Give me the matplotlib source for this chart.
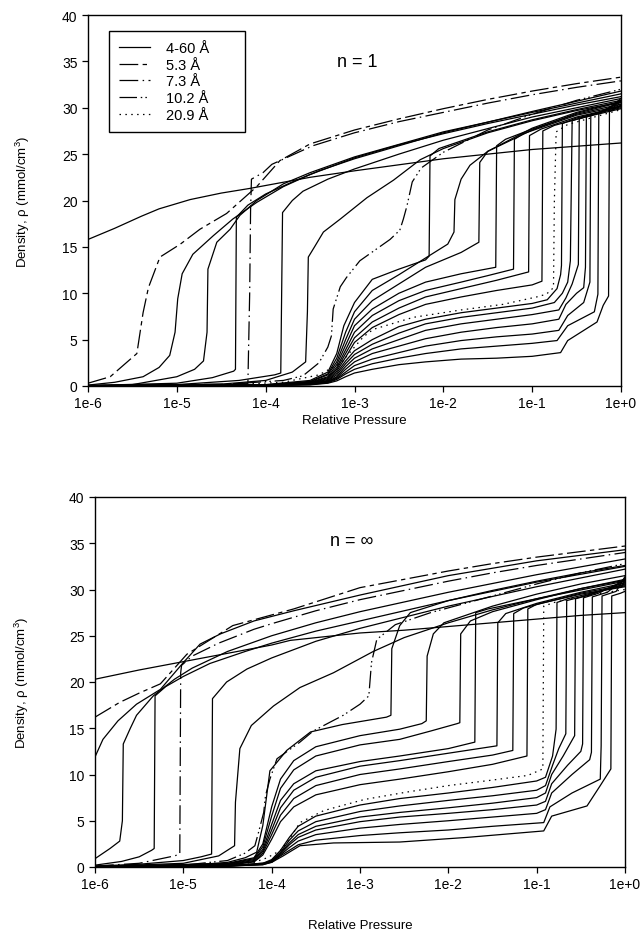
import matplotlib
matplotlib.use("Agg")
import matplotlib.pyplot as plt
from matplotlib.lines import Line2D

plt.rcParams['font.family'] = ['Liberation Sans', 'DejaVu Sans']
plt.rcParams['mathtext.fontset'] = 'custom'
plt.rcParams['mathtext.rm'] = 'Liberation Sans'
plt.rcParams['mathtext.default'] = 'regular'

# (log10 relative pressure, density)

# ---- n = 1 panel ----
top_solid = [
    [(-6, 15.8), (-5.7, 17.0), (-5.4, 18.3), (-5.2, 19.1), (-4.85, 20.1), (-4.5, 20.8), (-4.18, 21.3),
     (-3.5, 22.5), (-3, 23.2), (-2, 24.5), (-1, 25.5), (0, 26.2)],
    [(-6, 0.1), (-5.7, 0.4), (-5.38, 1.0), (-5.2, 2.0), (-5.08, 3.3), (-5.02, 5.8), (-4.99, 9.4), (-4.94, 12.1),
     (-4.82, 14.2), (-4.59, 16.2), (-4.37, 18.0), (-4.1, 19.8), (-3.8, 21.5), (-3.5, 22.8), (-3, 24.6),
     (-2.5, 26.0), (-2, 27.2), (-1.5, 28.3), (-1, 29.3), (-0.5, 30.3), (0, 31.2)],
    [(-6, 0.05), (-5.5, 0.15), (-5.0, 1.0), (-4.8, 1.8), (-4.7, 2.7), (-4.66, 5.8), (-4.65, 12.6), (-4.55, 15.5),
     (-4.4, 16.9), (-4.29, 18.4), (-4.1, 20.0), (-3.8, 21.8), (-3.5, 23.0), (-3, 24.7), (-2, 27.4), (-1, 29.5),
     (0, 31.5)],
    [(-6, 0.05), (-5, 0.3), (-4.6, 0.9), (-4.36, 1.6), (-4.34, 1.8), (-4.33, 18.2), (-4.2, 19.5), (-4.0, 20.7),
     (-3.7, 22.0), (-3.4, 23.2), (-3, 24.5), (-2, 27.3), (-1, 29.6), (0, 31.8)],
    [(-6, 0.03), (-5, 0.15), (-4.3, 0.6), (-3.9, 1.2), (-3.83, 1.4), (-3.81, 18.7), (-3.7, 20.0), (-3.58, 21.0),
     (-3.3, 22.3), (-3, 23.4), (-2.5, 25.0), (-2, 26.5), (-1, 29.0), (0, 31.0)],
    [(-6, 0.03), (-4.5, 0.2), (-4, 0.6), (-3.7, 1.5), (-3.55, 2.6), (-3.53, 8), (-3.52, 13.9), (-3.45, 15.0),
     (-3.35, 16.6), (-3.16, 18.0), (-2.86, 20.3), (-2.56, 22.2), (-2.26, 24.4), (-2, 25.6), (-1.5, 27.3),
     (-1, 28.6), (-0.5, 29.7), (0, 30.6)],
    [(-6, 0.02), (-4, 0.15), (-3.5, 0.6), (-3.3, 1.5), (-3.2, 3.5), (-3.12, 6.5), (-3.0, 9.0), (-2.8, 11.5),
     (-2.5, 12.6), (-2.2, 13.6), (-2.16, 14.0), (-2.15, 24.8), (-2.05, 25.6), (-1.5, 27.4), (-1, 28.7),
     (-0.5, 29.8), (0, 30.8)],
    [(-6, 0.02), (-4, 0.12), (-3.5, 0.5), (-3.3, 1.3), (-3.2, 3.0), (-3.1, 5.8), (-3.0, 8.0), (-2.8, 10.3),
     (-2.5, 12.0), (-2.2, 13.8), (-1.95, 15.3), (-1.88, 16.6), (-1.87, 20.1), (-1.8, 22.3), (-1.7, 23.8),
     (-1.5, 25.3), (-1, 27.8), (-0.5, 29.5), (0, 30.7)],
    [(-6, 0.02), (-4, 0.1), (-3.5, 0.45), (-3.3, 1.2), (-3.2, 2.6), (-3.1, 5.0), (-3.0, 7.2), (-2.8, 9.2),
     (-2.5, 11.0), (-2.2, 12.8), (-1.8, 14.4), (-1.6, 15.5), (-1.59, 24.1), (-1.5, 25.3), (-1, 27.6),
     (-0.5, 29.4), (0, 30.6)],
    [(-6, 0.02), (-4, 0.1), (-3.5, 0.4), (-3.3, 1.0), (-3.2, 2.3), (-3.1, 4.4), (-3.0, 6.5), (-2.8, 8.3),
     (-2.5, 10.0), (-2.2, 11.2), (-1.8, 12.1), (-1.41, 12.8), (-1.40, 25.9), (-1.3, 26.6), (-1, 27.7),
     (-0.5, 29.3), (0, 30.4)],
    [(-6, 0.02), (-4, 0.1), (-3.5, 0.35), (-3.3, 0.9), (-3.2, 2.0), (-3.1, 3.9), (-3.0, 5.8), (-2.8, 7.6),
     (-2.5, 9.2), (-2.2, 10.3), (-1.8, 11.2), (-1.5, 11.9), (-1.21, 12.6), (-1.2, 26.6), (-1.1, 27.2),
     (-0.5, 29.2), (0, 30.2)],
    [(-6, 0.02), (-4, 0.1), (-3.5, 0.3), (-3.3, 0.8), (-3.2, 1.8), (-3.1, 3.5), (-3.0, 5.2), (-2.8, 6.9),
     (-2.5, 8.4), (-2.2, 9.6), (-1.8, 10.5), (-1.4, 11.4), (-1.04, 12.3), (-1.03, 27.0), (-0.9, 27.7),
     (-0.5, 29.0), (0, 30.1)],
    [(-6, 0.02), (-4, 0.1), (-3.5, 0.3), (-3.3, 0.7), (-3.2, 1.6), (-3.1, 3.1), (-3.0, 4.7), (-2.8, 6.3),
     (-2.5, 7.7), (-2.2, 8.8), (-1.8, 9.6), (-1.4, 10.3), (-1.0, 10.9), (-0.89, 11.3), (-0.88, 27.5),
     (-0.75, 28.1), (-0.4, 29.0), (0, 29.9)],
    [(-6, 0.02), (-4, 0.08), (-3.5, 0.25), (-3.3, 0.6), (-3.2, 1.4), (-3.1, 2.7), (-3.0, 3.8), (-2.8, 5.0),
     (-2.5, 6.4), (-2.2, 7.2), (-1.8, 7.9), (-1.4, 8.4), (-1.0, 8.9), (-0.83, 9.3), (-0.72, 10.5), (-0.68, 12.0),
     (-0.67, 13.0), (-0.66, 28.3), (-0.5, 28.9), (0, 30.0)],
    [(-6, 0.02), (-4, 0.08), (-3.5, 0.25), (-3.3, 0.55), (-3.2, 1.2), (-3.1, 2.4), (-3.0, 3.4), (-2.8, 4.5),
     (-2.5, 5.7), (-2.2, 6.7), (-1.8, 7.4), (-1.4, 7.9), (-1.0, 8.4), (-0.75, 9.0), (-0.66, 10.0), (-0.6, 11.2),
     (-0.57, 13.5), (-0.55, 28.6), (-0.4, 29.1), (0, 30.2)],
    [(-6, 0.02), (-4, 0.07), (-3.5, 0.2), (-3.3, 0.5), (-3.2, 1.0), (-3.1, 2.1), (-3.0, 3.0), (-2.8, 4.0),
     (-2.5, 5.0), (-2.2, 6.0), (-1.8, 6.7), (-1.4, 7.2), (-1.0, 7.7), (-0.7, 8.2), (-0.62, 9.5), (-0.55, 11.0),
     (-0.48, 13.1), (-0.47, 28.8), (-0.3, 29.3), (0, 30.4)],
    [(-6, 0.02), (-4, 0.07), (-3.5, 0.2), (-3.3, 0.45), (-3.2, 0.9), (-3.1, 1.8), (-3.0, 2.6), (-2.8, 3.5),
     (-2.5, 4.3), (-2.2, 5.1), (-1.8, 5.8), (-1.4, 6.3), (-1.0, 6.7), (-0.7, 7.2), (-0.62, 8.8), (-0.5, 10.0),
     (-0.42, 10.6), (-0.40, 12.8), (-0.39, 29.0), (-0.25, 29.5), (0, 30.6)],
    [(-6, 0.02), (-4, 0.06), (-3.5, 0.18), (-3.3, 0.4), (-3.2, 0.8), (-3.1, 1.5), (-3.0, 2.2), (-2.8, 2.9),
     (-2.5, 3.6), (-2.2, 4.3), (-1.8, 4.9), (-1.4, 5.3), (-1.0, 5.6), (-0.7, 6.0), (-0.6, 7.6), (-0.42, 9.0),
     (-0.35, 11.2), (-0.34, 29.2), (-0.2, 29.6), (0, 30.8)],
    [(-6, 0.02), (-4, 0.06), (-3.5, 0.15), (-3.3, 0.35), (-3.2, 0.7), (-3.1, 1.3), (-3.0, 1.8), (-2.8, 2.4),
     (-2.5, 3.0), (-2.2, 3.5), (-1.8, 4.0), (-1.4, 4.3), (-1.0, 4.6), (-0.72, 4.9), (-0.6, 6.5), (-0.3, 8.0),
     (-0.26, 9.9), (-0.25, 29.4), (-0.15, 29.8), (0, 31.0)],
    [(-6, 0.02), (-4, 0.05), (-3.5, 0.12), (-3.3, 0.3), (-3.2, 0.55), (-3.1, 1.0), (-3.0, 1.4), (-2.8, 1.8),
     (-2.5, 2.3), (-2.2, 2.6), (-1.8, 2.9), (-1.4, 3.0), (-1.0, 3.2), (-0.68, 3.6), (-0.6, 4.9), (-0.27, 6.9),
     (-0.2, 8.7), (-0.14, 9.7), (-0.13, 29.6), (-0.05, 30.0), (0, 30.3)],
]
top_53 = [(-6, 0.3), (-5.75, 1.0), (-5.45, 3.5), (-5.38, 7.9), (-5.32, 10.6), (-5.19, 13.9), (-4.96, 15.3),
          (-4.74, 16.9), (-4.44, 18.6), (-4.1, 21.5), (-3.84, 24.3), (-3.5, 26.1), (-3, 27.6), (-2.5, 28.8),
          (-2, 29.9), (-1.5, 30.9), (-1, 31.8), (-0.5, 32.6), (0, 33.3)]
top_73 = [(-6, 0.05), (-5, 0.12), (-4.5, 0.2), (-4.2, 0.3), (-4.18, 10), (-4.17, 18.9), (-4.16, 22.3),
          (-4.03, 23.0), (-3.93, 23.9), (-3.47, 25.9), (-3, 27.3), (-2.5, 28.5), (-2, 29.5), (-1.5, 30.5),
          (-1, 31.4), (-0.5, 32.2), (0, 32.9)]
top_102 = [(-6, 0.03), (-4.5, 0.15), (-3.8, 0.6), (-3.58, 1.1), (-3.4, 2.5), (-3.3, 4.2), (-3.26, 5.4),
           (-3.24, 8.3), (-3.16, 10.7), (-3.09, 11.7), (-2.94, 13.5), (-2.6, 15.8), (-2.49, 16.8), (-2.45, 18.0),
           (-2.41, 19.4), (-2.35, 22.0), (-2.25, 23.5), (-2, 25.2), (-1.5, 27.6), (-1, 29.3), (-0.5, 30.8),
           (0, 32.0)]
top_209 = [(-6, 0.02), (-4.5, 0.1), (-3.8, 0.4), (-3.4, 1.2), (-3.15, 2.5), (-3.0, 4.2), (-2.9, 5.3),
           (-2.79, 6.1), (-2.34, 7.4), (-1.8, 8.2), (-1.33, 8.8), (-0.95, 9.6), (-0.84, 9.9), (-0.76, 10.6),
           (-0.75, 20), (-0.73, 27.4), (-0.6, 28.2), (-0.3, 29.0), (0, 29.8)]

# ---- n = infinity panel ----
bot_solid = [
    [(-6, 20.3), (-5.5, 21.3), (-5, 22.2), (-4.5, 23.1), (-4, 24.0), (-3.79, 24.5), (-3, 25.3), (-2.5, 25.6),
     (-2, 26.0), (-1.5, 26.4), (-1, 26.8), (-0.5, 27.2), (0, 27.5)],
    [(-6, 11.9), (-5.91, 13.8), (-5.74, 15.8), (-5.53, 17.6), (-5.26, 19.2), (-5.0, 22.1), (-4.81, 24.1),
     (-4.58, 25.2), (-4.2, 26.6), (-3.75, 27.7), (-3, 29.4), (-2, 31.5), (-1, 33.1), (0, 34.3)],
    [(-6, 0.9), (-5.83, 2.0), (-5.72, 2.8), (-5.69, 5), (-5.68, 13.3), (-5.6, 15.0), (-5.53, 16.4),
     (-5.34, 18.5), (-5.1, 20.3), (-4.9, 21.5), (-4.5, 23.3), (-4, 25.0), (-3.5, 26.4), (-3, 27.6), (-2, 29.7),
     (-1, 31.6), (0, 33.3)],
    [(-6, 0.2), (-5.7, 0.6), (-5.5, 1.1), (-5.36, 1.8), (-5.33, 2.0), (-5.32, 18.5), (-5.2, 19.5), (-5.0, 20.6),
     (-4.7, 22.0), (-4.3, 23.3), (-4, 24.2), (-3.5, 25.5), (-3, 26.6), (-2, 28.8), (-1, 30.8), (0, 32.5)],
    [(-6, 0.1), (-5.5, 0.3), (-5, 0.7), (-4.8, 1.1), (-4.68, 1.4), (-4.67, 18.2), (-4.51, 20.0), (-4.28, 21.4),
     (-4, 22.6), (-3.5, 24.4), (-3, 25.8), (-2, 28.2), (-1, 30.3), (0, 32.2)],
    [(-6, 0.05), (-5, 0.4), (-4.6, 1.2), (-4.42, 2.3), (-4.41, 7), (-4.36, 12.8), (-4.23, 15.3), (-3.98, 17.4),
     (-3.68, 19.4), (-3.3, 21.0), (-2.85, 23.3), (-2.5, 24.8), (-2, 26.4), (-1.5, 27.8), (-1, 29.0),
     (-0.5, 30.1), (0, 31.0)],
    [(-6, 0.03), (-5, 0.15), (-4.5, 0.5), (-4.3, 1.0), (-4.17, 1.6), (-4.1, 4.5), (-4.02, 10.4), (-3.83, 12.6),
     (-3.56, 14.6), (-3.2, 15.4), (-2.7, 16.2), (-2.65, 16.4), (-2.64, 23.6), (-2.55, 26.1), (-2.43, 27.5),
     (-2, 28.8), (-1.5, 29.9), (-1, 30.9), (-0.5, 31.8), (0, 32.6)],
    [(-6, 0.03), (-4.5, 0.4), (-4.2, 1.0), (-4.1, 2.5), (-4.0, 6.5), (-3.9, 9.5), (-3.75, 11.5), (-3.5, 13.0),
     (-3.0, 14.2), (-2.55, 14.9), (-2.3, 15.5), (-2.25, 15.8), (-2.24, 22.8), (-2.17, 25.2), (-2.05, 26.4),
     (-1.5, 28.2), (-1, 29.5), (-0.5, 30.6), (0, 31.5)],
    [(-6, 0.03), (-4.5, 0.35), (-4.2, 0.9), (-4.1, 2.2), (-4.0, 5.5), (-3.9, 8.5), (-3.75, 10.5), (-3.5, 12.0),
     (-3.0, 13.2), (-2.55, 13.8), (-2.2, 14.7), (-1.9, 15.5), (-1.87, 15.6), (-1.86, 25.2), (-1.75, 26.6),
     (-1.5, 27.6), (-1, 28.9), (-0.5, 30.1), (0, 31.1)],
    [(-6, 0.03), (-4.5, 0.3), (-4.2, 0.8), (-4.1, 1.9), (-4.0, 4.6), (-3.9, 7.2), (-3.75, 9.0), (-3.5, 10.4),
     (-3.0, 11.4), (-2.55, 12.0), (-2.0, 12.8), (-1.7, 13.5), (-1.69, 27.5), (-1.55, 27.9), (-1, 29.0),
     (0, 30.9)],
    [(-6, 0.03), (-4.5, 0.25), (-4.2, 0.7), (-4.1, 1.7), (-4.0, 4.0), (-3.9, 6.4), (-3.75, 8.3), (-3.5, 9.7),
     (-3.0, 10.9), (-2.55, 11.5), (-2.0, 12.3), (-1.45, 13.1), (-1.44, 26.4), (-1.35, 27.4), (-1, 28.5),
     (-0.5, 29.7), (0, 30.7)],
    [(-6, 0.02), (-4.5, 0.2), (-4.2, 0.6), (-4.1, 1.5), (-4.0, 3.5), (-3.9, 5.6), (-3.75, 7.4), (-3.5, 8.8),
     (-3.0, 10.0), (-2.55, 10.6), (-2.0, 11.4), (-1.5, 12.1), (-1.27, 12.6), (-1.26, 27.4), (-1.15, 28.0),
     (-0.5, 29.6), (0, 30.5)],
    [(-6, 0.02), (-4.5, 0.2), (-4.2, 0.55), (-4.1, 1.3), (-4.0, 3.0), (-3.9, 4.9), (-3.75, 6.5), (-3.5, 7.8),
     (-3.0, 8.9), (-2.55, 9.5), (-2.0, 10.3), (-1.5, 11.1), (-1.11, 12.0), (-1.10, 27.9), (-1.0, 28.4),
     (-0.5, 29.5), (0, 30.3)],
    [(-6, 0.02), (-4.5, 0.15), (-4.1, 0.4), (-4.0, 0.8), (-3.9, 1.8), (-3.8, 3.2), (-3.7, 4.4), (-3.5, 5.5),
     (-3.0, 6.7), (-2.55, 7.4), (-2.0, 8.0), (-1.5, 8.6), (-1.0, 9.3), (-0.9, 9.7), (-0.82, 12.0),
     (-0.78, 14.9), (-0.77, 28.6), (-0.65, 29.0), (-0.3, 29.8), (0, 30.4)],
    [(-6, 0.02), (-4.5, 0.12), (-4.1, 0.35), (-4.0, 0.7), (-3.9, 1.6), (-3.8, 2.9), (-3.7, 3.9), (-3.5, 4.9),
     (-3.0, 6.0), (-2.55, 6.6), (-2.0, 7.2), (-1.5, 7.7), (-1.0, 8.3), (-0.9, 8.8), (-0.82, 11.0),
     (-0.75, 12.8), (-0.67, 14.4), (-0.66, 28.8), (-0.5, 29.2), (0, 30.6)],
    [(-6, 0.02), (-4.5, 0.12), (-4.1, 0.3), (-4.0, 0.65), (-3.9, 1.5), (-3.8, 2.6), (-3.7, 3.5), (-3.5, 4.4),
     (-3.0, 5.4), (-2.55, 5.9), (-2.0, 6.4), (-1.5, 6.9), (-1.0, 7.5), (-0.9, 8.0), (-0.83, 10.0),
     (-0.7, 12.0), (-0.57, 14.2), (-0.56, 29.0), (-0.4, 29.4), (0, 30.8)],
    [(-6, 0.02), (-4.5, 0.1), (-4.1, 0.3), (-4.0, 0.6), (-3.9, 1.4), (-3.8, 2.4), (-3.7, 3.2), (-3.5, 4.0),
     (-3.0, 4.9), (-2.55, 5.4), (-2.0, 5.8), (-1.5, 6.2), (-1.0, 6.7), (-0.9, 7.1), (-0.83, 9.0),
     (-0.65, 11.0), (-0.5, 12.5), (-0.48, 13.3), (-0.47, 29.1), (-0.3, 29.6), (0, 31.0)],
    [(-6, 0.02), (-4.5, 0.1), (-4.1, 0.25), (-4.0, 0.55), (-3.9, 1.3), (-3.8, 2.1), (-3.7, 2.8), (-3.5, 3.5),
     (-3.0, 4.2), (-2.55, 4.6), (-2.0, 5.0), (-1.5, 5.4), (-1.0, 5.8), (-0.9, 6.2), (-0.83, 8.0),
     (-0.6, 10.0), (-0.4, 11.6), (-0.38, 12.4), (-0.37, 29.2), (-0.2, 29.7), (0, 31.2)],
    [(-6, 0.02), (-4.5, 0.1), (-4.1, 0.25), (-4.0, 0.5), (-3.9, 1.2), (-3.8, 1.8), (-3.7, 2.4), (-3.5, 2.9),
     (-3.0, 3.4), (-2.55, 3.7), (-2.0, 4.0), (-1.5, 4.4), (-0.92, 4.8), (-0.85, 6.5), (-0.6, 8.0),
     (-0.28, 9.5), (-0.27, 13.1), (-0.26, 29.3), (-0.1, 29.8), (0, 31.4)],
    [(-6, 0.02), (-4.5, 0.1), (-4.0, 0.5), (-3.87, 1.2), (-3.68, 2.3), (-3.3, 2.6), (-2.55, 2.7), (-1.79, 3.2),
     (-0.92, 3.9), (-0.83, 5.5), (-0.43, 6.6), (-0.28, 8.8), (-0.16, 10.6), (-0.15, 29.3), (-0.05, 29.6),
     (0, 29.8)],
]
bot_53 = [(-6, 16.2), (-5.72, 17.8), (-5.5, 18.8), (-5.26, 19.8), (-5.1, 21.5), (-4.96, 23.0), (-4.44, 26.1),
          (-3.75, 27.9), (-3.0, 30.2), (-2.5, 31.1), (-2, 32.0), (-1.5, 32.8), (-1, 33.5), (-0.5, 34.1), (0, 34.7)]
bot_73 = [(-6, 0.1), (-5.5, 0.4), (-5.1, 1.2), (-5.04, 1.4), (-5.03, 21.0), (-5.02, 21.8), (-4.9, 22.8),
          (-4.6, 24.2), (-4.2, 25.7), (-4, 26.3), (-3.5, 27.7), (-3, 28.9), (-2.5, 29.9), (-2, 30.9),
          (-1.5, 31.8), (-1, 32.6), (-0.5, 33.3), (0, 34.0)]
bot_102 = [(-6, 0.05), (-5, 0.2), (-4.5, 0.7), (-4.3, 1.5), (-4.19, 2.3), (-4.15, 3.7), (-4.09, 5.9),
           (-4.07, 7.7), (-4.02, 9.5), (-3.94, 11.7), (-3.81, 12.6), (-3.68, 13.5), (-3.53, 14.7), (-3.19, 16.4),
           (-3.0, 17.6), (-2.9, 18.5), (-2.87, 22.1), (-2.81, 24.6), (-2.6, 26.2), (-2.2, 27.5), (-1.5, 29.3),
           (-1, 30.6), (-0.5, 31.8), (0, 32.8)]
bot_209 = [(-6, 0.02), (-4.5, 0.2), (-4.2, 0.5), (-4.05, 1.0), (-3.9, 1.8), (-3.8, 3.0), (-3.68, 4.8),
           (-3.41, 6.1), (-2.95, 7.3), (-2.47, 8.1), (-2.0, 8.8), (-1.5, 9.4), (-1.1, 9.9), (-0.93, 10.6),
           (-0.92, 28.2), (-0.8, 28.6), (-0.4, 29.4), (0, 30.0)]

labels = ['4-60 Å', '5.3 Å', '7.3 Å', '10.2 Å', '20.9 Å']
dash_53 = (0, (15, 3.5, 3.5, 3.5))
dash_73 = (0, (15, 3.5, 1.2, 3.5))
dash_102 = (0, (14, 3, 1.2, 2.5, 1.2, 3))
dash_209 = (0, (1.2, 3.5))
LW = 0.9


def draw(ax, solid, c53, c73, c102, c209):
    for pts in solid:
        ax.plot([10 ** p[0] for p in pts], [p[1] for p in pts], color='black', lw=LW, ls='-')
    for pts, ls in [(c53, dash_53), (c73, dash_73), (c102, dash_102), (c209, dash_209)]:
        ax.plot([10 ** p[0] for p in pts], [p[1] for p in pts], color='black', lw=LW, ls=ls)
    ax.set_xscale('log')
    ax.set_xlim(1e-6, 1)
    ax.set_ylim(0, 40)
    ax.set_xticks([10.0 ** k for k in range(-6, 1)])
    ax.set_xticklabels(['1e-6', '1e-5', '1e-4', '1e-3', '1e-2', '1e-1', '1e+0'])
    ax.minorticks_off()
    ax.set_yticks(range(0, 41, 5))
    ax.tick_params(direction='out', length=4, width=0.9, labelsize=10)
    for s in ax.spines.values():
        s.set_linewidth(1.0)
    ax.set_xlabel('Relative Pressure', fontsize=9.5)
    ax.set_ylabel('Density, ρ (mmol/cm$^3$)', fontsize=9.5)


fig = plt.figure(figsize=(6.44, 9.37), dpi=100)
ax1 = fig.add_axes([88 / 644, (937 - 387) / 937, 533 / 644, 371 / 937])
ax2 = fig.add_axes([95 / 644, (937 - 868) / 937, 530 / 644, 370 / 937])

draw(ax1, top_solid, top_53, top_73, top_102, top_209)
draw(ax2, bot_solid, bot_53, bot_73, bot_102, bot_209)

ax1.xaxis.set_label_coords(0.5, -0.075)
ax2.xaxis.set_label_coords(0.5, -0.14)
ax1.yaxis.set_label_coords(-0.105, 0.5)
ax2.yaxis.set_label_coords(-0.12, 0.5)

ax1.text(10 ** -2.97, 35.0, 'n = 1', fontsize=13, ha='center', va='center')
ax2.text(10 ** -3.09, 35.3, 'n = ∞', fontsize=13, ha='center', va='center')

handles = [Line2D([], [], color='black', lw=LW, ls=s) for s in ['-', dash_53, dash_73, dash_102, dash_209]]
leg = ax1.legend(handles, labels, loc='upper left', mode='expand',
                 bbox_to_anchor=(0.039, 0.5, 0.255, 0.457), borderaxespad=0,
                 fontsize=10.5, handlelength=2.1, handletextpad=1.1, labelspacing=0.18, borderpad=0.7,
                 fancybox=False, framealpha=1, edgecolor='black')
leg.get_frame().set_linewidth(1.0)

fig.savefig('out.png', dpi=100)
